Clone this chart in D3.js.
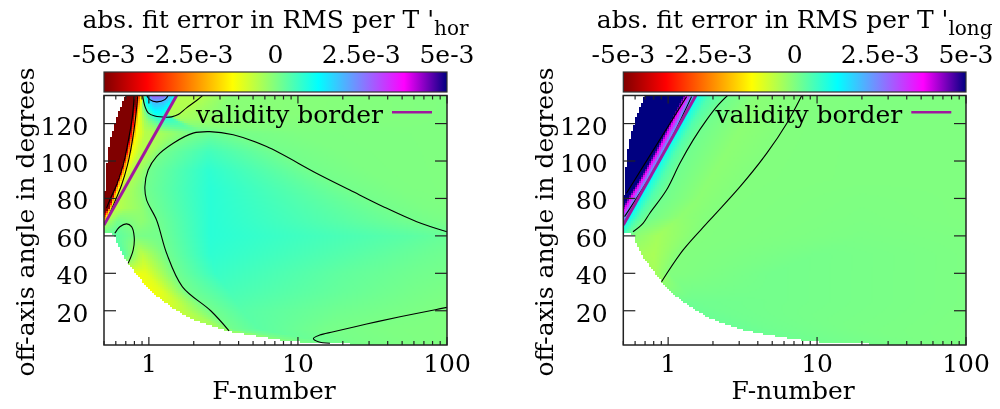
<!DOCTYPE html>
<html>
<head>
<meta charset="utf-8">
<script src="https://cdn.jsdelivr.net/npm/d3@7"></script>
<style>
  html, body { margin: 0; padding: 0; background: #fff; }
  #wrap { position: relative; width: 1000px; height: 409px; overflow: hidden; }
  #wrap canvas, #wrap svg { position: absolute; left: 0; top: 0; }
  svg text { font-family: "DejaVu Serif", serif; font-size: 25px; fill: #000; }
</style>
</head>
<body>
<div id="wrap">
  <canvas id="field" width="1000" height="409"></canvas>
  <svg id="chart" width="1000" height="409"></svg>
</div>
<script>
// ---------- axes, ticks and palette ----------
const fDomain = [0.5, 100];
const angleDomain = [1.7, 135];
const fTickValues = [1, 10, 100];
const fTickLabels = ["1", "10", "100"];
const angleTickValues = [20, 40, 60, 80, 100, 120];
const cbTickValues = [-5e-3, -2.5e-3, 0, 2.5e-3, 5e-3];
const cbTickLabels = ["-5e-3", "-2.5e-3", "0", "2.5e-3", "5e-3"];
const paletteValues = [-5e-3, -3.75e-3, -2.5e-3, -1.25e-3, 0, 1.25e-3, 2.5e-3, 3.75e-3, 5e-3];
const paletteColors = ["#800000", "#ff0000", "#ff8000", "#ffff00", "#80ff80",
                       "#00ffff", "#8080ff", "#ff00ff", "#000080"];
const valueUnit = 1e-3;   // knot values below are given in units of 1e-3

// Edge of the computed region (F-number, angle in degrees)
const domainEdge = [
  [0.70, 137], [110, 137], [110, 0.5], [36, 0.5], [29, 1.9], [16.4, 2.6], [9.8, 3.4],
  [7.8, 4.3], [5.7, 6.0], [4.4, 7.5], [3.35, 9.2], [2.5, 12.4], [2.04, 15.0], [1.74, 17.7],
  [1.46, 21.3], [1.22, 25.7], [1.07, 29.3], [0.94, 33.7], [0.85, 38.5], [0.80, 41],
  [0.73, 45.3], [0.70, 47], [0.64, 52.5], [0.61, 56], [0.59, 60.5], [0.55, 61.5],
  [0.49, 62], [0.49, 78], [0.505, 82], [0.516, 88], [0.52, 96], [0.533, 105],
  [0.562, 114], [0.607, 122.9], [0.656, 130], [0.70, 135], [0.71, 137]
];

// Validity border (F-number, angle)
const validityBorder = [[0.5, 65.8], [1.535, 135]];

// ---------- T'_hor fit error: rows of knots along F ----------
const horAngles = [1.7, 10, 20, 30, 40, 50, 60, 68, 75, 85, 95, 105, 115, 125, 131, 135];
const horKnotF = [
  [0.3, 0.5, 1, 2, 3, 5, 8, 12, 16, 20, 30, 60, 100],
  [0.3, 0.5, 0.8, 1.2, 1.6, 2.0, 2.6, 3.2, 3.5, 5.5, 15, 40, 100],
  [0.3, 0.4, 0.5, 0.6, 0.8, 1.0, 1.5, 1.8, 2.6, 4.2, 20, 60, 100],
  [0.3, 0.4, 0.5, 0.6, 0.7, 0.8, 1.05, 1.25, 1.8, 3.5, 20, 60, 100],
  [0.3, 0.35, 0.4, 0.45, 0.5, 0.6, 0.82, 0.95, 1.5, 2.8, 20, 60, 100],
  [0.3, 0.35, 0.38, 0.41, 0.44, 0.5, 0.68, 0.9, 1.31, 2.6, 30, 70, 100],
  [0.3, 0.35, 0.38, 0.41, 0.44, 0.47, 0.6, 0.82, 1.19, 2.6, 60, 90, 100],
  [0.3, 0.46, 0.49, 0.505, 0.515, 0.53, 0.62, 0.9, 1.13, 2.6, 60, 85, 100],
  [0.3, 0.54, 0.55, 0.56, 0.575, 0.59, 0.7, 0.9, 1.03, 2.6, 38, 70, 100],
  [0.3, 0.59, 0.605, 0.625, 0.66, 0.69, 0.78, 0.88, 0.94, 2.6, 21, 50, 100],
  [0.3, 0.65, 0.67, 0.70, 0.76, 0.81, 0.88, 0.95, 0.99, 2.5, 12, 30, 100],
  [0.3, 0.70, 0.73, 0.77, 0.87, 0.95, 1.05, 1.15, 1.23, 2.5, 7.2, 20, 100],
  [0.3, 0.746, 0.78, 0.83, 0.95, 1.11, 1.3, 1.6, 2.0, 2.6, 3.6, 10, 100],
  [0.3, 0.78, 0.82, 0.86, 0.92, 1.0, 1.1, 1.2, 1.29, 1.33, 1.7, 3.0, 100],
  [0.3, 0.81, 0.85, 0.88, 0.92, 0.97, 1.08, 1.25, 1.42, 1.48, 2.0, 3.2, 100],
  [0.3, 0.83, 0.87, 0.90, 0.93, 0.97, 1.05, 1.25, 1.45, 1.55, 2.2, 3.5, 100]
];
const horKnotV = [
  [0.1, 0.1, 0.1, 0.1, 0.1, 0.1, 0.1, 0.1, 0.1, 0.1, 0.06, 0.02, 0],
  [-0.3, -0.3, -0.3, -0.3, -0.3, -0.3, -0.3, -0.25, 0.12, 0.35, 0.1, 0.02, 0],
  [-0.75, -0.75, -0.75, -0.75, -0.75, -0.75, -0.75, -0.5, 0.12, 0.4, 0.15, 0.05, 0],
  [-1.1, -1.1, -1.1, -1.1, -1.1, -1.1, -1.15, -0.9, 0.12, 0.55, 0.25, 0.1, 0.05],
  [-1.1, -1.1, -1.1, -1.1, -1.1, -1.1, -1.1, -1.0, 0.12, 0.7, 0.3, 0.15, 0.1],
  [0.3, 0.3, 0.3, 0.3, 0.3, 0.3, 0.35, -0.6, 0.12, 0.8, 0.35, 0.2, 0.15],
  [0.2, 0.2, 0.2, 0.2, 0.2, 0.2, 0.35, 0.05, 0.12, 0.85, 0.35, 0.25, 0.22],
  [-4.5, -3.8, -2.5, -1.2, -0.6, -0.4, 0.1, -0.15, 0.12, 0.85, 0.12, 0.08, 0.06],
  [-8, -5.2, -2.5, -1.2, -0.8, -0.6, -0.4, -0.15, 0.12, 0.85, 0.12, 0.04, 0.02],
  [-8, -5.2, -2.5, -1.2, -0.6, -0.45, -0.3, -0.1, 0.12, 0.85, 0.12, 0.02, 0],
  [-8, -5.2, -2.5, -1.2, -0.6, -0.45, -0.3, -0.1, 0.12, 0.8, 0.12, 0.02, 0],
  [-8, -5.2, -2.5, -1.2, -0.6, -0.45, -0.35, -0.1, 0.12, 0.6, 0.12, 0.02, 0],
  [-8, -5.2, -2.5, -1.2, -0.5, -0.45, -0.3, -0.1, 0.1, 0.2, 0.1, 0.02, 0],
  [-8, -5.2, -2.5, -1.2, -0.3, 0.5, 1.1, 1.1, 0.8, -0.45, -0.4, -0.1, 0],
  [-8, -5.2, -2.5, -1.2, 0.2, 1.2, 1.9, 1.8, 1.2, -0.5, -0.5, -0.1, 0],
  [-8, -5.2, -2.5, -1.2, 0.3, 1.5, 2.9, 2.8, 1.5, -0.5, -0.5, -0.1, 0]
];

// ---------- T'_long fit error: rows of knots along F ----------
const longAngles = [1.7, 10, 25, 40, 50, 60, 70, 80, 90, 105, 120, 135];
const longKnotF = [
  [0.3, 0.5, 1, 2, 3, 5, 8, 12, 20, 30, 60, 100],
  [0.3, 0.5, 0.7, 1, 1.3, 1.6, 2, 2.5, 3.3, 5, 20, 100],
  [0.3, 0.4, 0.5, 0.6, 0.7, 0.8, 0.9, 1.0, 1.2, 1.6, 5, 100],
  [0.3, 0.4, 0.45, 0.5, 0.55, 0.6, 0.65, 0.7, 0.82, 1.0, 5, 100],
  [0.3, 0.35, 0.38, 0.41, 0.44, 0.47, 0.5, 0.6, 0.8, 1.2, 10, 100],
  [0.3, 0.36, 0.38, 0.40, 0.42, 0.46, 0.53, 0.6, 0.85, 1.6, 20, 100],
  [0.3, 0.45, 0.475, 0.505, 0.536, 0.565, 0.63, 0.72, 1.2, 1.95, 20, 100],
  [0.3, 0.53, 0.56, 0.595, 0.63, 0.665, 0.76, 0.9, 1.6, 2.55, 20, 100],
  [0.3, 0.637, 0.67, 0.705, 0.74, 0.78, 0.9, 1.06, 1.9, 3.3, 20, 100],
  [0.3, 0.81, 0.855, 0.9, 0.94, 0.99, 1.13, 1.33, 2.5, 4.7, 20, 100],
  [0.3, 1.01, 1.07, 1.14, 1.2, 1.27, 1.45, 1.74, 3.2, 6.3, 20, 100],
  [0.3, 1.26, 1.33, 1.42, 1.52, 1.6, 1.9, 2.53, 4.0, 7.9, 20, 100]
];
const longKnotV = [
  [0.1, 0.1, 0.1, 0.1, 0.1, 0.1, 0.1, 0.1, 0.1, 0.08, 0.04, 0.02],
  [0.2, 0.2, 0.2, 0.2, 0.2, 0.2, 0.2, 0.2, 0.2, 0.15, 0.06, 0.02],
  [0.15, 0.15, 0.15, 0.15, 0.15, 0.15, 0.15, 0.15, 0.18, 0.15, 0.12, 0.03],
  [-0.35, -0.35, -0.35, -0.35, -0.35, -0.35, -0.35, -0.35, -0.35, -0.02, 0.12, 0.03],
  [-0.3, -0.3, -0.3, -0.3, -0.3, -0.3, -0.3, -0.35, -0.4, -0.02, 0.1, 0.03],
  [1.0, 1.0, 1.0, 1.0, 1.0, 0.8, 0.3, -0.1, -0.35, -0.02, 0.05, 0.02],
  [8, 5.2, 3.75, 2.6, 1.6, 1.0, 0.45, 0.15, -0.15, -0.02, 0.03, 0],
  [8, 5.2, 3.75, 2.6, 1.6, 1.0, 0.45, 0.15, -0.12, -0.02, 0.02, 0],
  [8, 5.2, 3.75, 2.6, 1.6, 1.0, 0.45, 0.15, -0.12, -0.02, 0, 0],
  [8, 5.2, 3.75, 2.6, 1.6, 1.0, 0.45, 0.15, -0.12, -0.02, 0, 0],
  [8, 5.2, 3.75, 2.6, 1.6, 1.0, 0.45, 0.15, -0.12, -0.02, 0, 0],
  [8, 5.2, 3.75, 2.6, 1.6, 1.0, 0.45, 0.15, -0.1, -0.02, 0, 0]
];

// ---------- contour lines (F-number, angle) ----------
const horContours = [
  [[3.45, 9.3], [2.6, 20], [1.68, 32.8], [1.315, 50.7], [1.126, 68.5], [0.965, 79.2],
   [0.94, 86.3], [0.989, 95.2], [1.126, 102.4], [1.456, 109.5], [1.98, 114.9],
   [2.56, 115.7], [3.68, 114], [6.16, 107.7], [13.3, 93.5], [22.3, 84.5], [37.4, 75.6],
   [62.7, 67.6], [100, 62.2]],
  [[100, 21.8], [85, 20.7], [48.4, 16.8], [28.9, 12.9], [17.3, 8.8], [14.0, 7.0],
   [12.7, 5.2], [13.7, 3.4], [16.4, 2.6]],
  [[0.591, 61.4], [0.639, 64.9], [0.709, 66.4], [0.765, 64.9], [0.797, 59.6],
   [0.785, 52.5], [0.726, 45.3]],
  [[0.907, 135.2], [0.94, 129.3], [0.989, 125.7], [1.097, 124], [1.315, 123.4],
   [1.42, 123.6], [1.573, 124.8], [1.79, 128.4], [2.09, 132.3], [2.31, 135.2]],
  [[0.965, 135.2], [1.016, 132.8], [1.126, 131.6], [1.28, 132.8], [1.35, 135.2]],
  [[0.797, 134.4], [0.773, 122.9], [0.726, 110.4], [0.672, 97.9], [0.607, 87.2],
   [0.547, 79.2], [0.52, 74.8]],
  [[0.84, 134.4], [0.814, 122.9], [0.773, 110.4], [0.719, 97.9], [0.656, 87.2],
   [0.591, 78.3], [0.547, 72.1]]
];
const longContours = [
  [[0.581, 62.2], [0.678, 66.7], [0.753, 72.1], [0.975, 84.5], [1.199, 98.8],
   [1.474, 111.3], [1.813, 122], [2.17, 130], [2.535, 135.4]],
  [[0.903, 35.5], [1.262, 52.5], [1.908, 68.5], [3.04, 86.3], [4.6, 104.2],
   [6.27, 120.2], [7.93, 135.3]],
  [[0.525, 82.8], [0.783, 105], [1.33, 134.4]],
  [[0.51, 70.3], [0.89, 101], [1.437, 134.4]]
];

// ---------- layout ----------
const panels = [
  { left: 104, right: 447, sub: "hor", angles: horAngles, knotF: horKnotF, knotV: horKnotV, contours: horContours },
  { left: 623.3, right: 966, sub: "long", angles: longAngles, knotF: longKnotF, knotV: longKnotV, contours: longContours }
];
const plotTop = 95.5, plotBottom = 345;
const barTop = 72, barBottom = 92;
const borderColor = "#a0189f";

const color = d3.scaleLinear().domain(paletteValues).range(paletteColors)
  .interpolate(d3.interpolateRgb).clamp(true);

// Knot rows: knot positions and values glide between neighbouring rows.
function makeSampler(angles, knotF, knotV) {
  const rows = angles.map((a, i) => ({ lf: knotF[i].map(Math.log10), v: knotV[i] }));
  const n = angles.length;
  return function (F, a) {
    const lf = Math.log10(F);
    let i = d3.bisectRight(angles, a) - 1;
    i = Math.max(0, Math.min(n - 2, i));
    let t = (a - angles[i]) / (angles[i + 1] - angles[i]);
    t = Math.max(0, Math.min(1, t));
    const r0 = rows[i], r1 = rows[i + 1];
    let px = null, pv = null;
    for (let k = 0; k < r0.lf.length; k++) {
      const xk = r0.lf[k] * (1 - t) + r1.lf[k] * t;
      const vk = r0.v[k] * (1 - t) + r1.v[k] * t;
      if (lf <= xk) {
        if (px === null || xk === px) return vk;
        const s = (lf - px) / (xk - px);
        return pv + (vk - pv) * s;
      }
      px = xk; pv = vk;
    }
    return pv;
  };
}

const ctx = document.getElementById("field").getContext("2d");
const svg = d3.select("#chart");
const defs = svg.append("defs");

// colour bar gradient
const grad = defs.append("linearGradient").attr("id", "pal")
  .attr("x1", "0%").attr("x2", "100%").attr("y1", "0%").attr("y2", "0%");
paletteValues.forEach((v, i) => {
  grad.append("stop")
    .attr("offset", ((v - paletteValues[0]) / (paletteValues[8] - paletteValues[0]) * 100) + "%")
    .attr("stop-color", paletteColors[i]);
});

panels.forEach((p, pi) => {
  const x = d3.scaleLog().domain(fDomain).range([p.left, p.right]);
  const y = d3.scaleLinear().domain(angleDomain).range([plotBottom, plotTop]);
  const cb = d3.scaleLinear().domain([-5e-3, 5e-3]).range([p.left, p.right]);
  const sample = makeSampler(p.angles, p.knotF, p.knotV);
  const mid = (p.left + p.right) / 2;

  // ---- heat map on the canvas ----
  const poly = domainEdge.map(d => [x(d[0]), y(d[1])]);
  const cell = 2;
  ctx.save();
  ctx.beginPath();
  ctx.rect(p.left, plotTop, p.right - p.left, plotBottom - plotTop);
  ctx.clip();
  for (let py = Math.floor(plotTop); py < plotBottom; py += cell) {
    for (let px = Math.floor(p.left); px < p.right; px += cell) {
      const cx = px + cell / 2, cy = py + cell / 2;
      if (!d3.polygonContains(poly, [cx, cy])) continue;
      const v = sample(x.invert(cx), y.invert(cy)) * valueUnit;
      ctx.fillStyle = color(v);
      ctx.fillRect(px, py, cell, cell);
    }
  }
  ctx.restore();

  const g = svg.append("g");
  const clipId = "clip" + pi;
  defs.append("clipPath").attr("id", clipId).append("rect")
    .attr("x", p.left).attr("y", plotTop)
    .attr("width", p.right - p.left).attr("height", plotBottom - plotTop);

  // ---- contours ----
  const line = d3.line().x(d => x(d[0])).y(d => y(d[1])).curve(d3.curveCatmullRom.alpha(0.5));
  const cg = g.append("g").attr("clip-path", `url(#${clipId})`);
  cg.selectAll("path.ct").data(p.contours).join("path")
    .attr("class", "ct").attr("d", line)
    .attr("fill", "none").attr("stroke", "#000").attr("stroke-width", 1.1);

  // ---- validity border ----
  cg.append("path").datum(validityBorder)
    .attr("d", d3.line().x(d => x(d[0])).y(d => y(d[1])))
    .attr("fill", "none").attr("stroke", borderColor).attr("stroke-width", 3);

  // ---- frame and ticks ----
  g.append("rect").attr("x", p.left).attr("y", plotTop)
    .attr("width", p.right - p.left).attr("height", plotBottom - plotTop)
    .attr("fill", "none").attr("stroke", "#222").attr("stroke-width", 1.5);

  const minorTicks = x.ticks().filter(t => !fTickValues.some(m => Math.abs(m - t) < 1e-9));
  const tk = g.append("g").attr("stroke", "#222").attr("stroke-width", 1.2);
  minorTicks.forEach(t => {
    tk.append("line").attr("x1", x(t)).attr("x2", x(t)).attr("y1", plotBottom).attr("y2", plotBottom - 4);
    tk.append("line").attr("x1", x(t)).attr("x2", x(t)).attr("y1", plotTop).attr("y2", plotTop + 4);
  });
  fTickValues.forEach(t => {
    tk.append("line").attr("x1", x(t)).attr("x2", x(t)).attr("y1", plotBottom).attr("y2", plotBottom - 8);
    tk.append("line").attr("x1", x(t)).attr("x2", x(t)).attr("y1", plotTop).attr("y2", plotTop + 8);
  });
  angleTickValues.forEach(t => {
    tk.append("line").attr("x1", p.left).attr("x2", p.left + 12).attr("y1", y(t)).attr("y2", y(t));
    tk.append("line").attr("x1", p.right).attr("x2", p.right - 12).attr("y1", y(t)).attr("y2", y(t));
  });

  // tick labels
  g.selectAll("text.xt").data(fTickValues).join("text").attr("class", "xt")
    .attr("x", d => x(d)).attr("y", 371.7).attr("text-anchor", "middle")
    .text((d, i) => fTickLabels[i]);
  g.selectAll("text.yt").data(angleTickValues).join("text").attr("class", "yt")
    .attr("x", p.left - 15.7).attr("y", d => y(d) + 11).attr("text-anchor", "end")
    .text(d => d);

  // axis titles
  g.append("text").attr("x", mid - 1.5).attr("y", 399.3).attr("text-anchor", "middle").text("F-number");
  g.append("text").attr("transform", `translate(${p.left - 70.5},${222}) rotate(-90)`)
    .attr("text-anchor", "middle").text("off-axis angle in degrees");

  // ---- colour bar ----
  g.append("rect").attr("x", p.left).attr("y", barTop)
    .attr("width", p.right - p.left).attr("height", barBottom - barTop)
    .attr("fill", "url(#pal)").attr("stroke", "#333").attr("stroke-width", 1.2);
  cbTickValues.slice(1, -1).forEach(t => {
    tk.append("line").attr("x1", cb(t)).attr("x2", cb(t)).attr("y1", barTop).attr("y2", barTop + 6);
    tk.append("line").attr("x1", cb(t)).attr("x2", cb(t)).attr("y1", barBottom).attr("y2", barBottom - 6);
  });
  g.selectAll("text.cbt").data(cbTickValues).join("text").attr("class", "cbt")
    .attr("x", d => cb(d)).attr("y", 63.3).attr("text-anchor", "middle")
    .text((d, i) => cbTickLabels[i]);

  // title with subscript
  const title = g.append("text").attr("x", mid).attr("y", 28).attr("text-anchor", "middle");
  title.append("tspan").text("abs. fit error in RMS per T '");
  title.append("tspan").attr("font-size", 20).attr("dy", 6.5).text(p.sub);

  // ---- key ----
  g.append("text").attr("x", p.left + 279).attr("y", 123.3).attr("text-anchor", "end").text("validity border");
  g.append("line").attr("x1", p.left + 288).attr("x2", p.left + 328)
    .attr("y1", 112.3).attr("y2", 112.3)
    .attr("stroke", borderColor).attr("stroke-width", 2.5);
});
</script>
</body>
</html>
